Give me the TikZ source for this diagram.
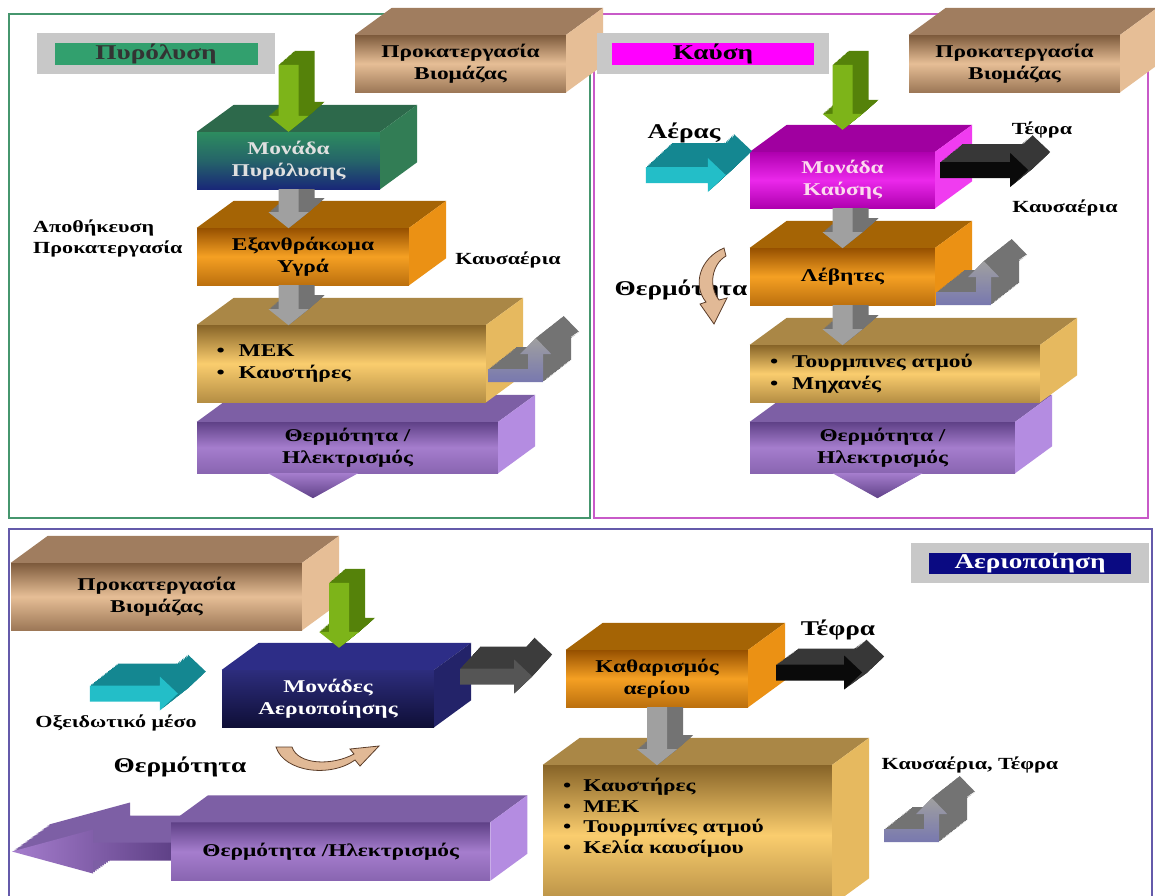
\documentclass[tikz,border=0pt]{standalone}
\usepackage{fontspec}
\setmainfont{Liberation Serif}[FakeStretch=1.3]
\usepackage{xcolor}
\usetikzlibrary{positioning, calc}

\definecolor{frameGreen}{RGB}{70,150,110}
\definecolor{framePink}{RGB}{200,90,200}
\definecolor{frameBlue}{RGB}{100,90,170}
\definecolor{titleGrey}{RGB}{200,200,200}
\definecolor{titleGreen}{RGB}{50,160,110}
\definecolor{titleMagenta}{RGB}{255,0,255}
\definecolor{titleNavy}{RGB}{10,10,130}
\definecolor{brownTop}{RGB}{160,125,95}
\definecolor{brownDark}{RGB}{125,90,60}
\definecolor{brownLight}{RGB}{230,190,150}
\definecolor{brownSide}{RGB}{230,190,150}
\definecolor{greenTop}{RGB}{45,105,75}
\definecolor{greenFront}{RGB}{45,140,95}
\definecolor{greenNavy}{RGB}{25,40,120}
\definecolor{greenSide}{RGB}{50,125,85}
\definecolor{orangeTop}{RGB}{165,100,5}
\definecolor{orangeDark}{RGB}{150,80,0}
\definecolor{orangeLight}{RGB}{245,160,35}
\definecolor{orangeSide}{RGB}{235,145,20}
\definecolor{goldTop}{RGB}{170,135,70}
\definecolor{goldDark}{RGB}{135,100,40}
\definecolor{goldLight}{RGB}{250,205,110}
\definecolor{goldSide}{RGB}{230,185,95}
\definecolor{lilacTop}{RGB}{125,95,165}
\definecolor{lilacDark}{RGB}{95,65,135}
\definecolor{lilacLight}{RGB}{165,125,205}
\definecolor{lilacSide}{RGB}{180,140,225}
\definecolor{magTop}{RGB}{160,0,160}
\definecolor{magDark}{RGB}{175,0,175}
\definecolor{magLight}{RGB}{235,40,235}
\definecolor{magSide}{RGB}{240,60,240}
\definecolor{navyTop}{RGB}{45,45,135}
\definecolor{navyFront}{RGB}{45,45,125}
\definecolor{navyDark}{RGB}{15,15,55}
\definecolor{navySide}{RGB}{35,35,105}
\definecolor{leafGreen}{RGB}{125,180,25}
\definecolor{leafDark}{RGB}{85,130,10}
\definecolor{steelGrey}{RGB}{160,160,160}
\definecolor{steelDark}{RGB}{115,115,115}
\definecolor{ashGrey}{RGB}{85,85,85}
\definecolor{ashDark}{RGB}{60,60,60}
\definecolor{tealFront}{RGB}{35,190,200}
\definecolor{tealDark}{RGB}{20,135,145}
\definecolor{soot}{RGB}{10,10,10}
\definecolor{sootSide}{RGB}{55,55,55}
\definecolor{slateBlue}{RGB}{120,120,175}
\definecolor{tanFill}{RGB}{225,185,150}
\definecolor{tanLine}{RGB}{90,60,40}

\newcommand{\lblfont}{\fontsize{17}{21}\selectfont\bfseries}
\newcommand{\boxfnt}{\fontsize{18}{22}\selectfont\bfseries}
\newcommand{\bigfnt}{\fontsize{21}{24}\selectfont\bfseries}

% top and right faces of a box whose front is a node
\newcommand{\cubefaces}[3]{%
  \fill[#2] (#1.north west) -- ++(37,-27) -- ([shift={(37,-27)}]#1.north east) -- (#1.north east) -- cycle;
  \fill[#3] (#1.north east) -- ++(37,-27) -- ([shift={(37,-27)}]#1.south east) -- (#1.south east) -- cycle;
}

\tikzset{
  facebox/.style={inner sep=0pt, align=center, font=\boxfnt},
  lbl/.style={inner sep=0pt, align=left, font=\lblfont},
  titleback/.style={fill=titleGrey, inner sep=0pt},
  titlefront/.style={inner sep=0pt, font=\bigfnt},
  brownface/.style={top color=brownDark, bottom color=brownDark!70!brownLight, middle color=brownLight},
  pyrface/.style={top color=greenFront, bottom color=greenNavy, middle color=greenFront!60!greenNavy},
  orangeface/.style={top color=orangeDark, bottom color=orangeDark!60!orangeLight, middle color=orangeLight},
  goldface/.style={top color=goldDark, bottom color=goldDark!60!goldLight, middle color=goldLight},
  lilacface/.style={top color=lilacDark, bottom color=lilacDark!40!lilacLight, middle color=lilacLight},
  magface/.style={top color=magDark, bottom color=magDark, middle color=magLight},
  navyface/.style={top color=navyFront, bottom color=navyDark},
  % 3D block arrow pointing down, origin at the top of the shaft
  pics/dnarrow/.style n args={4}{code={%
    \begin{scope}
      \clip (-60,-#4) rectangle (60,#1+1);
      \foreach \t in {1,0.95,...,0.02}
        \fill[#3, shift={(\t*16,-\t*14)}] (-10,0) -- (-10,#1-16) -- (-20,#1-16) -- (0,#1) -- (20,#1-16) -- (10,#1-16) -- (10,0) -- cycle;
      \fill[#2] (-10,0) -- (-10,#1-16) -- (-20,#1-16) -- (0,#1) -- (20,#1-16) -- (10,#1-16) -- (10,0) -- cycle;
    \end{scope}
  }},
  % 3D block arrow pointing right, origin at the tail
  pics/rtarrow/.style n args={5}{code={%
    \foreach \t in {1,0.95,...,0.02}
      \fill[#3, shift={(\t*#4,-\t*#5)}] (0,-8) -- (#1-18,-8) -- (#1-18,-17) -- (#1,0) -- (#1-18,17) -- (#1-18,8) -- (0,8) -- cycle;
    \fill[#2] (0,-8) -- (#1-18,-8) -- (#1-18,-17) -- (#1,0) -- (#1-18,17) -- (#1-18,8) -- (0,8) -- cycle;
  }},
  % bent arrow going up, origin at the lower left corner
  pics/bentarrow/.style n args={2}{code={%
    \foreach \t in {1,0.95,...,0.02}
      \fill[#2, shift={(\t*28,-\t*22)}] (0,0) -- (55,0) -- (55,-28) -- (63,-28) -- (47.5,-44) -- (32,-28) -- (40,-28) -- (40,-13) -- (0,-13) -- cycle;
    \shade[top color=#1, bottom color=slateBlue] (0,0) -- (55,0) -- (55,-28) -- (63,-28) -- (47.5,-44) -- (32,-28) -- (40,-28) -- (40,-13) -- (0,-13) -- cycle;
  }},
  % head under a lilac box
  pics/dnhead/.style n args={2}{code={%
    \begin{scope}
      \clip (-80,0) rectangle (100,#2+1);
      \foreach \t in {1,0.95,...,0.02}
        \fill[lilacSide, shift={(\t*30,-\t*22)}] (-#1,0) -- (#1,0) -- (0,#2) -- cycle;
      \shade[top color=lilacLight, bottom color=lilacDark] (-#1,0) -- (#1,0) -- (0,#2) -- cycle;
    \end{scope}
  }},
  % head and shaft to the left of a lilac box
  pics/lthead/.style={code={%
    \foreach \t in {1,0.95,...,0.02}
      \fill[lilacTop, shift={(\t*37,-\t*27)}] (0,-9) -- (-78,-9) -- (-78,-22) -- (-159,0) -- (-78,22) -- (-78,9) -- (0,9) -- cycle;
    \shade[left color=lilacLight, right color=lilacDark] (0,-9) -- (-78,-9) -- (-78,-22) -- (-159,0) -- (-78,22) -- (-78,9) -- (0,9) -- cycle;
  }},
}

\begin{document}
\begin{tikzpicture}[x=1pt, y=-1pt]
\useasboundingbox (0,0) rectangle (1155,895);
\fill[white] (0,0) rectangle (1155,895);

% frames
\draw[frameGreen, line width=1.5] (9,14) rectangle (590,518);
\draw[framePink, line width=1.5] (594,14) rectangle (1148,518);
\draw[frameBlue, line width=1.5] (9,529) rectangle (1152,905);

% Pyrolysis
\node[titleback, minimum width=238, minimum height=41] (pyrTitleBg) at (156,53.5) {};
\node[titlefront, fill=titleGreen, minimum width=203, minimum height=22, text=black!80] (pyrTitle) at (pyrTitleBg) {Πυρόλυση};

\node[facebox, brownface, minimum width=211, minimum height=57] (prepA) at (460.5,63.5) {Προκατεργασία\\Βιομάζας};
\cubefaces{prepA}{brownTop}{brownSide}

\node[facebox, lilacface, minimum width=301, minimum height=51] (heatA) at (347.5,447.5) {Θερμότητα /\\Ηλεκτρισμός};
\cubefaces{heatA}{lilacTop}{lilacSide}
\pic at ([shift={(-34.5,0)}]heatA.south) {dnhead={45}{25}};

\node[facebox, goldface, minimum width=289, minimum height=77, text width=250, align=left] (mekBoxA) at (341.5,363.5) {\textbullet\hspace{14pt}ΜΕΚ\\\textbullet\hspace{14pt}Καυστήρες};
\cubefaces{mekBoxA}{goldTop}{goldSide}

\node[facebox, orangeface, minimum width=212, minimum height=57] (charBox) at (303,256.5) {Εξανθράκωμα\\Υγρά};
\cubefaces{charBox}{orangeTop}{orangeSide}

\node[facebox, pyrface, minimum width=183, minimum height=57, text=white!88!black] (pyrUnit) at (288.5,160.5) {Μονάδα\\Πυρόλυσης};
\cubefaces{pyrUnit}{greenTop}{greenSide}

\pic at ([shift={(0,-67)}]pyrUnit.north) {dnarrow={67}{leafGreen}{leafDark}{40}};
\pic at (pyrUnit.south) {dnarrow={39}{steelGrey}{steelDark}{0}};
\pic at ([shift={(-14.5,0)}]charBox.south) {dnarrow={40}{steelGrey}{steelDark}{0}};
\pic at ([shift={(2,18.5)}]mekBoxA.east) {bentarrow={steelGrey}{steelDark}};

\node[lbl, anchor=west] (storeLbl) at (33,238) {Αποθήκευση\\Προκατεργασία};
\node[lbl] (fluegasA) at (508,260) {Καυσαέρια};

% Combustion
\node[titleback, minimum width=232, minimum height=41] (combTitleBg) at (713,53.5) {};
\node[titlefront, fill=titleMagenta, minimum width=202, minimum height=22] (combTitle) at (combTitleBg) {Καύση};

\node[facebox, brownface, minimum width=211, minimum height=57] (prepB) at (1014.5,63.5) {Προκατεργασία\\Βιομάζας};
\cubefaces{prepB}{brownTop}{brownSide}

\node[facebox, lilacface, minimum width=265, minimum height=51] (heatB) at (882.5,447.5) {Θερμότητα /\\Ηλεκτρισμός};
\cubefaces{heatB}{lilacTop}{lilacSide}
\pic at ([shift={(-5,0)}]heatB.south) {dnhead={45}{25}};

\node[facebox, goldface, minimum width=290, minimum height=57, text width=250, align=left] (turbBox) at (895,373.5) {\textbullet\hspace{14pt}Τουρμπινες ατμού\\\textbullet\hspace{14pt}Μηχανές};
\cubefaces{turbBox}{goldTop}{goldSide}

\node[facebox, orangeface, minimum width=185, minimum height=57] (boiler) at (842.5,276.5) {Λέβητες};
\cubefaces{boiler}{orangeTop}{orangeSide}

\node[facebox, magface, minimum width=185, minimum height=56, text=white!85!magenta] (combUnit) at (842.5,180) {Μονάδα\\Καύσης};
\cubefaces{combUnit}{magTop}{magSide}

\pic at ([shift={(0,-87)}]combUnit.north) {dnarrow={65}{leafGreen}{leafDark}{40}};
\pic at (combUnit.south) {dnarrow={40}{steelGrey}{steelDark}{0}};
\pic at (boiler.south) {dnarrow={40}{steelGrey}{steelDark}{0}};
\pic at ([shift={(-104,-5)}]combUnit.west) {rtarrow={80}{tealFront}{tealDark}{26}{24}};
\pic at ([shift={(5,-10)}]combUnit.east) {rtarrow={88}{soot}{sootSide}{22}{18}};
\pic at ([shift={(1,28.5)}]boiler.east) {bentarrow={steelGrey}{steelDark}};

\node[lbl, font=\bigfnt] (airLbl) at (684,133) {Αέρας};
\node[lbl] (ashB) at (1042,130) {Τέφρα};
\node[lbl] (fluegasB) at (1065,208) {Καυσαέρια};
\node[lbl, font=\bigfnt] (heatLblB) at (681,290) {Θερμότητα};
\filldraw[fill=tanFill, draw=tanLine, line width=0.8] (724,248) .. controls (700,258) and (692,285) .. (706,302) -- (700,304) -- (714,324) -- (727,298) -- (719,300) .. controls (708,286) and (712,264) .. (726,256) -- cycle;

% Gasification
\node[titleback, minimum width=238, minimum height=40] (gasTitleBg) at (1030,563) {};
\node[titlefront, fill=titleNavy, minimum width=202, minimum height=21, text=white] (gasTitle) at (gasTitleBg) {Αεριοποίηση};

\node[facebox, brownface, minimum width=291, minimum height=67] (prepC) at (156.5,596.5) {Προκατεργασία\\Βιομάζας};
\cubefaces{prepC}{brownTop}{brownSide}

\node[facebox, goldface, minimum width=289, minimum height=140] (bigBox) at (687.5,835) {};
\cubefaces{bigBox}{goldTop}{goldSide}
\node[lbl, anchor=north west, font=\fontsize{18}{20.5}\selectfont\bfseries] (bigList) at (563,778) {\textbullet\hspace{12pt}Καυστήρες\\\textbullet\hspace{12pt}ΜΕΚ\\\textbullet\hspace{12pt}Τουρμπίνες ατμού\\\textbullet\hspace{12pt}Κελία καυσίμου};

\node[facebox, orangeface, minimum width=182, minimum height=57] (cleanBox) at (657,678.5) {Καθαρισμός\\αερίου};
\cubefaces{cleanBox}{orangeTop}{orangeSide}

\node[facebox, navyface, minimum width=212, minimum height=57, text=white] (gasUnit) at (328,698.5) {Μονάδες\\Αεριοποίησης};
\cubefaces{gasUnit}{navyTop}{navySide}

\coordinate (heatCend) at (171,851.5);
\pic at (heatCend) {lthead};
\node[facebox, lilacface, anchor=west, minimum width=319, minimum height=58] (heatC) at (heatCend) {Θερμότητα /Ηλεκτρισμός};
\cubefaces{heatC}{lilacTop}{lilacSide}

\pic at ([shift={(11,-87)}]gasUnit.north) {dnarrow={65}{leafGreen}{leafDark}{40}};
\pic at ([shift={(-132,-5)}]gasUnit.west) {rtarrow={88}{tealFront}{tealDark}{28}{22}};
\pic at ([shift={(26,-22)}]gasUnit.east) {rtarrow={72}{ashGrey}{ashDark}{20}{22}};
\pic at ([shift={(28,-6)}]cleanBox.east) {rtarrow={86}{soot}{sootSide}{22}{16}};
\pic at (cleanBox.south) {dnarrow={58}{steelGrey}{steelDark}{0}};
\pic at ([shift={(52,7)}]bigBox.east) {bentarrow={steelGrey}{steelDark}};

\node[lbl] (oxLbl) at (116,723) {Οξειδωτικό μέσο};
\node[lbl, font=\bigfnt] (heatLblC) at (180,767) {Θερμότητα};
\node[lbl, font=\bigfnt] (ashC) at (838,630) {Τέφρα};
\node[lbl] (fluegasC) at (970,765) {Καυσαέρια, Τέφρα};
\filldraw[fill=tanFill, draw=tanLine, line width=0.8] (276,747) .. controls (284,772) and (330,778) .. (355,760) -- (360,766) -- (379,746) -- (350,749) -- (354,754) .. controls (332,766) and (298,765) .. (292,747) -- cycle;
\end{tikzpicture}
\end{document}
